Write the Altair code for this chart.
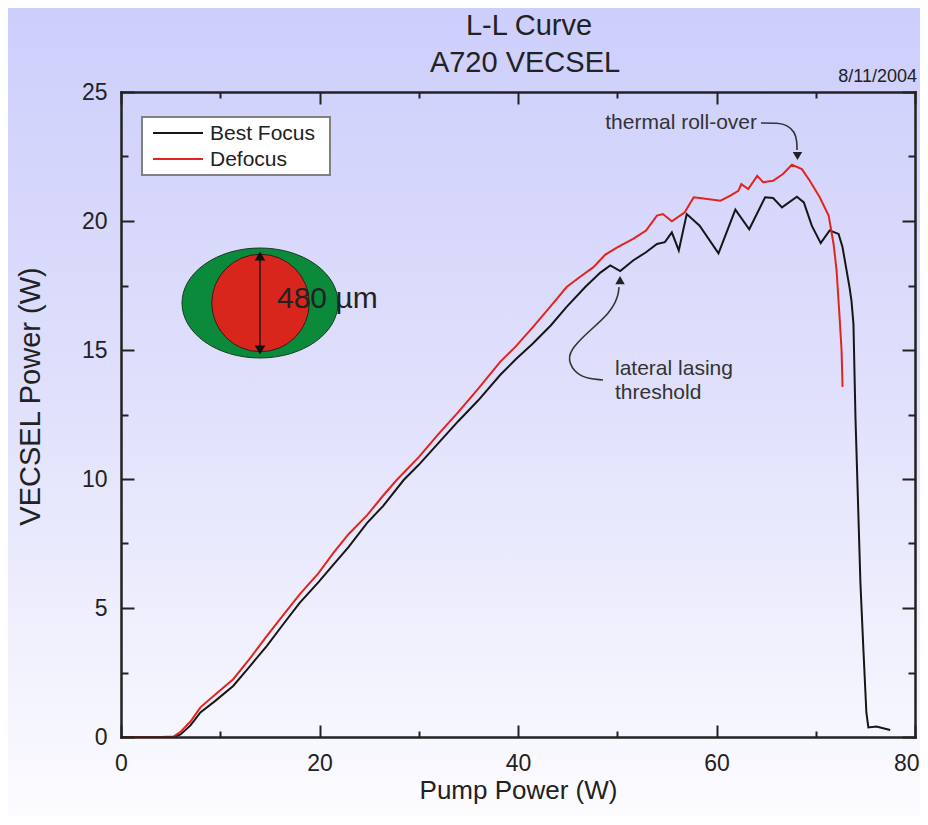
import altair as alt
import pandas as pd

# ---------------- data ----------------
best_w = [0, 2, 4, 5.3, 6, 7, 8, 9.5, 11.3, 13, 14.7, 16.4, 18.0, 19.9, 21.4, 22.9, 24.8,
          26.4, 28.5, 30, 32, 34, 36, 38.2, 39.8, 41.5, 43.3, 44.9, 46.8, 48.3, 49.3, 50.3,
          51.6, 52.9, 54.0, 54.8, 55.5, 56.2, 57.0, 58.3, 60.2, 61.9, 63.3, 64.9, 65.7,
          66.6, 68.1, 68.8, 69.6, 70.5, 71.4, 72.3, 72.7, 73.4, 73.6, 73.8, 74.0, 74.2,
          74.5, 74.8, 75.1, 75.3, 76.1, 77.5]
best_p = [0, 0, 0, 0, 0.1, 0.45, 0.95, 1.4, 1.98, 2.75, 3.53, 4.4, 5.2, 6.0, 6.68, 7.35, 8.3,
          8.95, 9.97, 10.55, 11.4, 12.25, 13.05, 14.03, 14.65, 15.25, 15.95, 16.67, 17.45,
          18.0, 18.28, 18.06, 18.47, 18.79, 19.11, 19.18, 19.56, 18.86, 20.27, 19.82, 18.75,
          20.44, 19.68, 20.92, 20.89, 20.53, 20.94, 20.72, 19.82, 19.14, 19.63, 19.5, 18.98,
          17.44, 16.9, 16.0, 12.4, 9.84, 5.98, 3.4, 0.95, 0.37, 0.41, 0.27]

defocus_w = [0, 2, 4, 5.3, 6, 7, 8, 9.5, 11.3, 13, 14.7, 16.4, 18.0, 19.9, 21.4, 22.9, 24.8,
             26.4, 27.8, 30, 32, 34, 36, 38.2, 39.8, 41.5, 43.3, 44.9, 46.3, 47.6, 48.8,
             50.0, 51.6, 52.9, 54.0, 54.6, 55.5, 56.8, 57.7, 58.3, 60.4, 61.4, 62.2, 62.5,
             63.2, 64.1, 64.7, 65.7, 66.7, 67.6, 68.6, 69.4, 70.4, 71.3, 71.8, 72.1, 72.4,
             72.6, 72.7]
defocus_p = [0, 0, 0, 0.02, 0.2, 0.6, 1.15, 1.65, 2.24, 3.05, 3.92, 4.75, 5.53, 6.35, 7.14,
             7.85, 8.6, 9.35, 9.97, 10.85, 11.75, 12.6, 13.5, 14.54, 15.15, 15.89, 16.7,
             17.44, 17.85, 18.21, 18.7, 18.98, 19.31, 19.63, 20.21, 20.27, 19.99, 20.34,
             20.92, 20.89, 20.79, 20.98, 21.17, 21.43, 21.24, 21.75, 21.5, 21.56, 21.82,
             22.18, 22.01, 21.56, 20.92, 20.21, 19.1, 18.08, 16.28, 14.99, 13.57]

series_names = ["Best Focus", "Defocus"]
series_colors = ["#161616", "#e3231d"]

x_major = [0, 20, 40, 60, 80]
x_minor = [10, 30, 50, 70]
y_major = [0, 5, 10, 15, 20, 25]
y_minor = [2.5, 7.5, 12.5, 17.5, 22.5]

title_lines = ["L-L Curve", "A720 VECSEL"]
date_text = "8/11/2004"
x_title = "Pump Power (W)"
y_title = "VECSEL Power (W)"

# annotation paths (in data units)
lateral_w = [48.56, 46.25, 45.04, 45.24, 46.95, 49.27, 50.08, 50.18]
lateral_p = [13.84, 13.91, 14.50, 15.00, 15.66, 16.43, 17.05, 17.44]
lateral_tip = (50.28, 17.71)
lateral_text = ["lateral lasing", "threshold"]

thermal_w = [64.48, 66.2, 67.12, 67.91, 68.11, 68.11]
thermal_p = [23.80, 23.80, 23.72, 23.45, 23.06, 22.75]
thermal_tip = (68.16, 22.52)
thermal_text = "thermal roll-over"

spot_text = "480 µm"

# ---------------- chart ----------------
W, H = 794, 645
PADL, PADT, PADR, PADB = 113, 84, 5, 80
FONT = "Liberation Sans"
INK = "#222222"

best_df = pd.DataFrame({"w": best_w, "p": best_p})
def_df = pd.DataFrame({"w": defocus_w, "p": defocus_p})
one = pd.DataFrame({"a": [0]})

xs = alt.Scale(domain=[0, 80], nice=False, zero=False)
ys = alt.Scale(domain=[0, 25], nice=False, zero=False)


def tick_axis(orient, values, size, offset, domain=False):
    return alt.Axis(orient=orient, values=values, tickSize=size, offset=offset,
                    domain=domain, labels=False, ticks=True, title=None, grid=False,
                    zindex=2, tickColor=INK, tickWidth=2, domainColor=INK,
                    domainWidth=2.5, domainCap="square")


x_label_axis = alt.Axis(orient="bottom", values=x_major[:-1], ticks=False, tickSize=0,
                        domain=True, domainColor=INK, domainWidth=2.5, domainCap="square",
                        labels=True, labelFont=FONT, labelFontSize=23, labelColor=INK,
                        labelPadding=15, labelFlush=False, grid=False, zindex=2,
                        title=x_title, titleFont=FONT, titleFontSize=26,
                        titleFontWeight="normal", titleColor=INK,
                        titleBaseline="alphabetic", titleY=61)
# last x label kept inside the page edge
x_last_axis = alt.Axis(orient="bottom", values=x_major[-1:], ticks=False, tickSize=0,
                       domain=False, labels=True, labelFont=FONT, labelFontSize=23,
                       labelColor=INK, labelPadding=15, labelFlush=True, labelFlushOffset=4,
                       grid=False, zindex=2, title=None)
y_label_axis = alt.Axis(orient="left", values=y_major, ticks=False, tickSize=0,
                        domain=True, domainColor=INK, domainWidth=2.5, domainCap="square",
                        labels=True, labelFont=FONT, labelFontSize=23, labelColor=INK,
                        labelPadding=14, labelFlush=False, grid=False, zindex=2,
                        title=y_title, titleFont=FONT, titleFontSize=29,
                        titleFontWeight="normal", titleColor=INK,
                        titleBaseline="alphabetic", titleX=-82, titleY=304)

# background gradient covering the whole drawing
bg = alt.Chart(one).mark_rect(
    fill=alt.Gradient(gradient="linear", x1=0, x2=0, y1=0, y2=1,
                      stops=[alt.GradientStop(color="#cdcefb", offset=0),
                             alt.GradientStop(color="#e1e1fc", offset=0.5),
                             alt.GradientStop(color="#fcfcff", offset=1)])
).encode(x=alt.value(-PADL), x2=alt.value(W + PADR), y=alt.value(-PADT), y2=alt.value(H + PADB))

layers = [bg]

# titles
layers.append(alt.Chart(one).mark_text(font=FONT, fontSize=29, color=INK, align="center",
                                       baseline="alphabetic", text=title_lines[0])
              .encode(x=alt.value(408), y=alt.value(-57)))
layers.append(alt.Chart(one).mark_text(font=FONT, fontSize=29, color=INK, align="center",
                                       baseline="alphabetic", text=title_lines[1])
              .encode(x=alt.value(404), y=alt.value(-20)))
layers.append(alt.Chart(one).mark_text(font=FONT, fontSize=18, color=INK, align="right",
                                       baseline="alphabetic", text=date_text)
              .encode(x=alt.value(796), y=alt.value(-10)))

# legend box
layers.append(alt.Chart(one).mark_rect(fill="white", stroke="#808080", strokeWidth=2)
              .encode(x=alt.value(21), x2=alt.value(209), y=alt.value(25), y2=alt.value(83)))
for i, (name, col) in enumerate(zip(series_names, series_colors)):
    yy = 41 + 26 * i
    layers.append(alt.Chart(one).mark_rule(color=col, strokeWidth=2)
                  .encode(x=alt.value(32), x2=alt.value(82), y=alt.value(yy)))
    layers.append(alt.Chart(one).mark_text(font=FONT, fontSize=21, color=INK, align="left",
                                           baseline="middle", text=name)
                  .encode(x=alt.value(89), y=alt.value(yy + 1)))

# spot illustration
ellipse_path = ("M-1,0C-1,-0.389,-0.552,-0.705,0,-0.705C0.552,-0.705,1,-0.389,1,0"
                "C1,0.389,0.552,0.705,0,0.705C-0.552,0.705,-1,0.389,-1,0Z")
layers.append(alt.Chart(one).mark_point(shape=ellipse_path, filled=True, fill="#0a8a3a",
                                        stroke="#1c3a22", strokeWidth=1, opacity=1, size=156 ** 2)
              .encode(x=alt.value(139), y=alt.value(211)))
layers.append(alt.Chart(one).mark_point(shape="circle", filled=True, fill="#d8261d",
                                        stroke="#3a1a1a", strokeWidth=1, opacity=1,
                                        size=3.1416 * 55 ** 2)
              .encode(x=alt.value(139.5), y=alt.value(211)))
layers.append(alt.Chart(one).mark_rule(color="#111111", strokeWidth=1.3)
              .encode(x=alt.value(139), y=alt.value(162), y2=alt.value(260)))
layers.append(alt.Chart(one).mark_point(shape="triangle-up", filled=True, color="#111111",
                                        opacity=1, size=110)
              .encode(x=alt.value(139), y=alt.value(164)))
layers.append(alt.Chart(one).mark_point(shape="triangle-down", filled=True, color="#111111",
                                        opacity=1, size=110)
              .encode(x=alt.value(139), y=alt.value(258)))
layers.append(alt.Chart(one).mark_text(font=FONT, fontSize=30, color=INK, align="left",
                                       baseline="middle", text=spot_text)
              .encode(x=alt.value(156), y=alt.value(207)))

# annotations
lat_df = pd.DataFrame({"w": lateral_w, "p": lateral_p, "i": range(len(lateral_w))})
th_df = pd.DataFrame({"w": thermal_w, "p": thermal_p, "i": range(len(thermal_w))})
for d in (lat_df, th_df):
    layers.append(alt.Chart(d).mark_line(color="#333333", strokeWidth=1.6, interpolate="basis")
                  .encode(x=alt.X("w:Q", scale=xs, axis=None),
                          y=alt.Y("p:Q", scale=ys, axis=None),
                          order="i:Q"))
tips = pd.DataFrame({"w": [lateral_tip[0]], "p": [lateral_tip[1]]})
layers.append(alt.Chart(tips).mark_point(shape="triangle-up", filled=True, color="#222222",
                                         opacity=1, size=90)
              .encode(x=alt.X("w:Q", scale=xs, axis=None), y=alt.Y("p:Q", scale=ys, axis=None)))
tips2 = pd.DataFrame({"w": [thermal_tip[0]], "p": [thermal_tip[1]]})
layers.append(alt.Chart(tips2).mark_point(shape="triangle-down", filled=True, color="#222222",
                                          opacity=1, size=90)
              .encode(x=alt.X("w:Q", scale=xs, axis=None), y=alt.Y("p:Q", scale=ys, axis=None)))
layers.append(alt.Chart(one).mark_text(font=FONT, fontSize=21, color="#333333", align="right",
                                       baseline="middle", text=thermal_text)
              .encode(x=alt.value(636), y=alt.value(31)))
for k, line in enumerate(lateral_text):
    layers.append(alt.Chart(one).mark_text(font=FONT, fontSize=21, color="#333333",
                                           align="left", baseline="middle", text=line)
                  .encode(x=alt.value(494), y=alt.value(277 + 24 * k)))

# invisible layers that carry the inward tick axes
layers.append(alt.Chart(best_df).mark_line(strokeOpacity=0).encode(
    x=alt.X("w:Q", scale=xs, axis=tick_axis("top", x_major, 12, -H)),
    y=alt.Y("p:Q", scale=ys, axis=tick_axis("right", y_major, 13, -W))))
layers.append(alt.Chart(best_df).mark_line(strokeOpacity=0).encode(
    x=alt.X("w:Q", scale=xs, axis=tick_axis("top", x_minor, 6, -H)),
    y=alt.Y("p:Q", scale=ys, axis=tick_axis("right", y_minor, 7, -W))))
layers.append(alt.Chart(best_df).mark_line(strokeOpacity=0).encode(
    x=alt.X("w:Q", scale=xs, axis=tick_axis("bottom", x_minor, 6, -H)),
    y=alt.Y("p:Q", scale=ys, axis=tick_axis("left", y_minor, 7, -W))))
layers.append(alt.Chart(best_df).mark_line(strokeOpacity=0).encode(
    x=alt.X("w:Q", scale=xs, axis=x_last_axis),
    y=alt.Y("p:Q", scale=ys, axis=None)))

# data lines
layers.append(alt.Chart(best_df).mark_line(color=series_colors[0], strokeWidth=2).encode(
    x=alt.X("w:Q", scale=xs, axis=x_label_axis),
    y=alt.Y("p:Q", scale=ys, axis=y_label_axis)))
layers.append(alt.Chart(def_df).mark_line(color=series_colors[1], strokeWidth=2).encode(
    x=alt.X("w:Q", scale=xs, axis=tick_axis("bottom", x_major, 12, -H, domain=True)),
    y=alt.Y("p:Q", scale=ys, axis=tick_axis("left", y_major, 13, -W, domain=True))))

chart = alt.layer(*layers).resolve_axis(x="independent", y="independent").properties(
    width=W, height=H, autosize="none",
    padding={"left": PADL, "top": PADT, "right": PADR, "bottom": PADB},
    background="white",
).configure_view(stroke=None)

chart.save("out.html", embed_options={"renderer": "svg", "actions": False})
